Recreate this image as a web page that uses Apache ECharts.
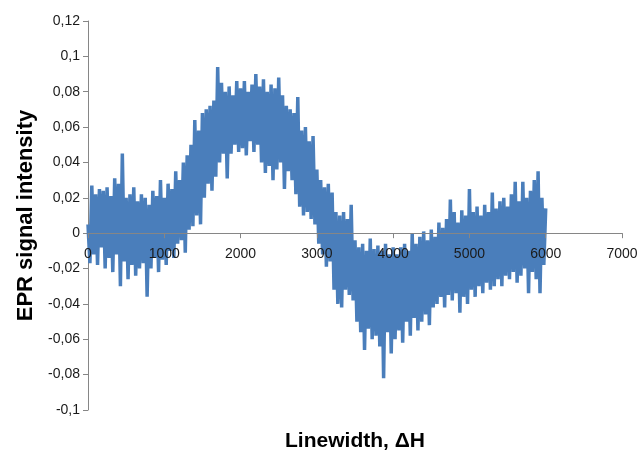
<!DOCTYPE html>
<html>
<head>
<meta charset="utf-8">
<script src="https://cdn.jsdelivr.net/npm/echarts@6/dist/echarts.min.js"></script>
<style>
html,body{margin:0;padding:0;background:#fff;}
#chart{width:639px;height:454px;}
</style>
</head>
<body>
<div id="chart"></div>
<script>
// Sampling of the field axis (ΔH), start and step
var fieldStart = 0;
var fieldStep = 25;

// EPR signal intensity (one value per 25 units, 0..6000)
var signal0 = [0.005,-0.017,0.027,-0.012,0.022,-0.018,0.025,-0.008,0.024,-0.020,0.026,-0.014,0.021,-0.022,0.031,-0.012,0.028,-0.030,0.045,-0.016];
var signal500 = [0.020,-0.026,0.022,-0.018,0.026,-0.024,0.018,-0.020,0.022,-0.017,0.020,-0.036,0.016,-0.020,0.024,-0.014,0.021,-0.022,0.030,-0.015];
var signal1000 = [0.020,-0.018,0.028,-0.010,0.025,-0.014,0.035,-0.006,0.030,-0.004,0.040,-0.011,0.044,0.002,0.050,0.004,0.064,0.010,0.058,0.005];
var signal1500 = [0.068,0.020,0.070,0.028,0.072,0.024,0.075,0.032,0.094,0.040,0.085,0.045,0.080,0.031,0.083,0.045,0.078,0.050,0.086,0.046];
var signal2000 = [0.082,0.048,0.086,0.044,0.080,0.052,0.084,0.046,0.090,0.050,0.083,0.040,0.087,0.034,0.080,0.038,0.084,0.030,0.082,0.036];
var signal2500 = [0.088,0.040,0.078,0.025,0.072,0.035,0.070,0.030,0.068,0.022,0.077,0.015,0.058,0.010,0.060,0.012,0.052,0.008,0.055,0.005];
var signal3000 = [0.036,-0.006,0.030,-0.012,0.026,-0.019,0.028,-0.016,0.023,-0.032,0.012,-0.040,0.010,-0.042,0.012,-0.032,0.008,-0.035,0.016,-0.038];
var signal3500 = [-0.004,-0.050,-0.008,-0.056,-0.006,-0.066,-0.010,-0.054,-0.003,-0.060,-0.009,-0.058,-0.007,-0.064,-0.010,-0.082,-0.006,-0.056,-0.012,-0.068];
var signal4000 = [-0.008,-0.060,-0.012,-0.055,-0.008,-0.062,-0.006,-0.050,-0.010,-0.058,0.000,-0.048,-0.006,-0.055,-0.002,-0.050,0.001,-0.046,-0.004,-0.052];
var signal4500 = [0.002,-0.042,-0.002,-0.040,0.006,-0.036,0.003,-0.042,0.008,-0.035,0.019,-0.038,0.012,-0.034,0.006,-0.045,0.013,-0.036,0.010,-0.040];
var signal5000 = [0.025,-0.032,0.012,-0.036,0.015,-0.030,0.010,-0.034,0.016,-0.028,0.012,-0.032,0.023,-0.030,0.014,-0.026,0.018,-0.030,0.020,-0.024];
var signal5500 = [0.015,-0.026,0.022,-0.022,0.029,-0.028,0.018,-0.024,0.029,-0.020,0.020,-0.034,0.024,-0.022,0.030,-0.026,0.035,-0.034,0.020,-0.018];
var signal6000 = [0.014];

// Axis ticks
var yTicks = {min: -0.1, max: 0.12, interval: 0.02};
var xTicks = {min: 0, max: 7000, interval: 1000};

var xTitle = 'Linewidth, ΔH';
var yTitle = 'EPR signal intensity';

var signal = [].concat(signal0, signal500, signal1000, signal1500, signal2000, signal2500,
  signal3000, signal3500, signal4000, signal4500, signal5000, signal5500, signal6000);
var seriesData = signal.map(function (v, i) { return [fieldStart + i * fieldStep, v]; });

function commaFmt(v) {
  var r = Math.round(v * 100) / 100;
  return String(r).replace('.', ',');
}

var gridTop = 21, gridBottom = 44, H = 454;
var plotH = H - gridTop - gridBottom;
// distance from the bottom of the plot to the value 0, through the y scale
var zeroOffset = plotH * (0 - yTicks.min) / (yTicks.max - yTicks.min);

var chart = echarts.init(document.getElementById('chart'), null, {renderer: 'canvas'});
chart.setOption({
  animation: false,
  backgroundColor: '#ffffff',
  grid: {left: 88, right: 17, top: gridTop, bottom: gridBottom, containLabel: false, outerBoundsMode: 'none'},
  xAxis: {
    type: 'value',
    z: 5,
    min: xTicks.min, max: xTicks.max, interval: xTicks.interval,
    offset: -zeroOffset,
    axisLine: {onZero: false, lineStyle: {color: '#868686', width: 1}},
    axisTick: {show: true, inside: false, length: 5, lineStyle: {color: '#868686'}},
    splitLine: {show: false},
    axisLabel: {color: '#1a1a1a', fontSize: 14, fontFamily: 'Liberation Sans', margin: 14,
      formatter: function (v) { return String(v); }},
    name: xTitle,
    nameLocation: 'middle',
    nameGap: 198,
    nameTextStyle: {fontSize: 21, fontWeight: 'bold', color: '#000', fontFamily: 'Liberation Sans'}
  },
  yAxis: {
    type: 'value',
    min: yTicks.min, max: yTicks.max, interval: yTicks.interval,
    axisLine: {show: true, lineStyle: {color: '#868686', width: 1}},
    axisTick: {show: true, inside: false, length: 5, lineStyle: {color: '#868686'}},
    splitLine: {show: false},
    axisLabel: {color: '#1a1a1a', fontSize: 14, fontFamily: 'Liberation Sans', margin: 8, formatter: commaFmt},
    name: yTitle,
    nameLocation: 'middle',
    nameGap: 45,
    nameRotate: 90,
    nameTextStyle: {fontSize: 22, fontWeight: 'bold', color: '#000', fontFamily: 'Liberation Sans'}
  },
  series: [{
    type: 'line',
    z: 2,
    data: seriesData,
    showSymbol: false,
    lineStyle: {color: '#4a7ebb', width: 3.5},
    itemStyle: {color: '#4a7ebb'}
  }]
});
</script>
</body>
</html>
